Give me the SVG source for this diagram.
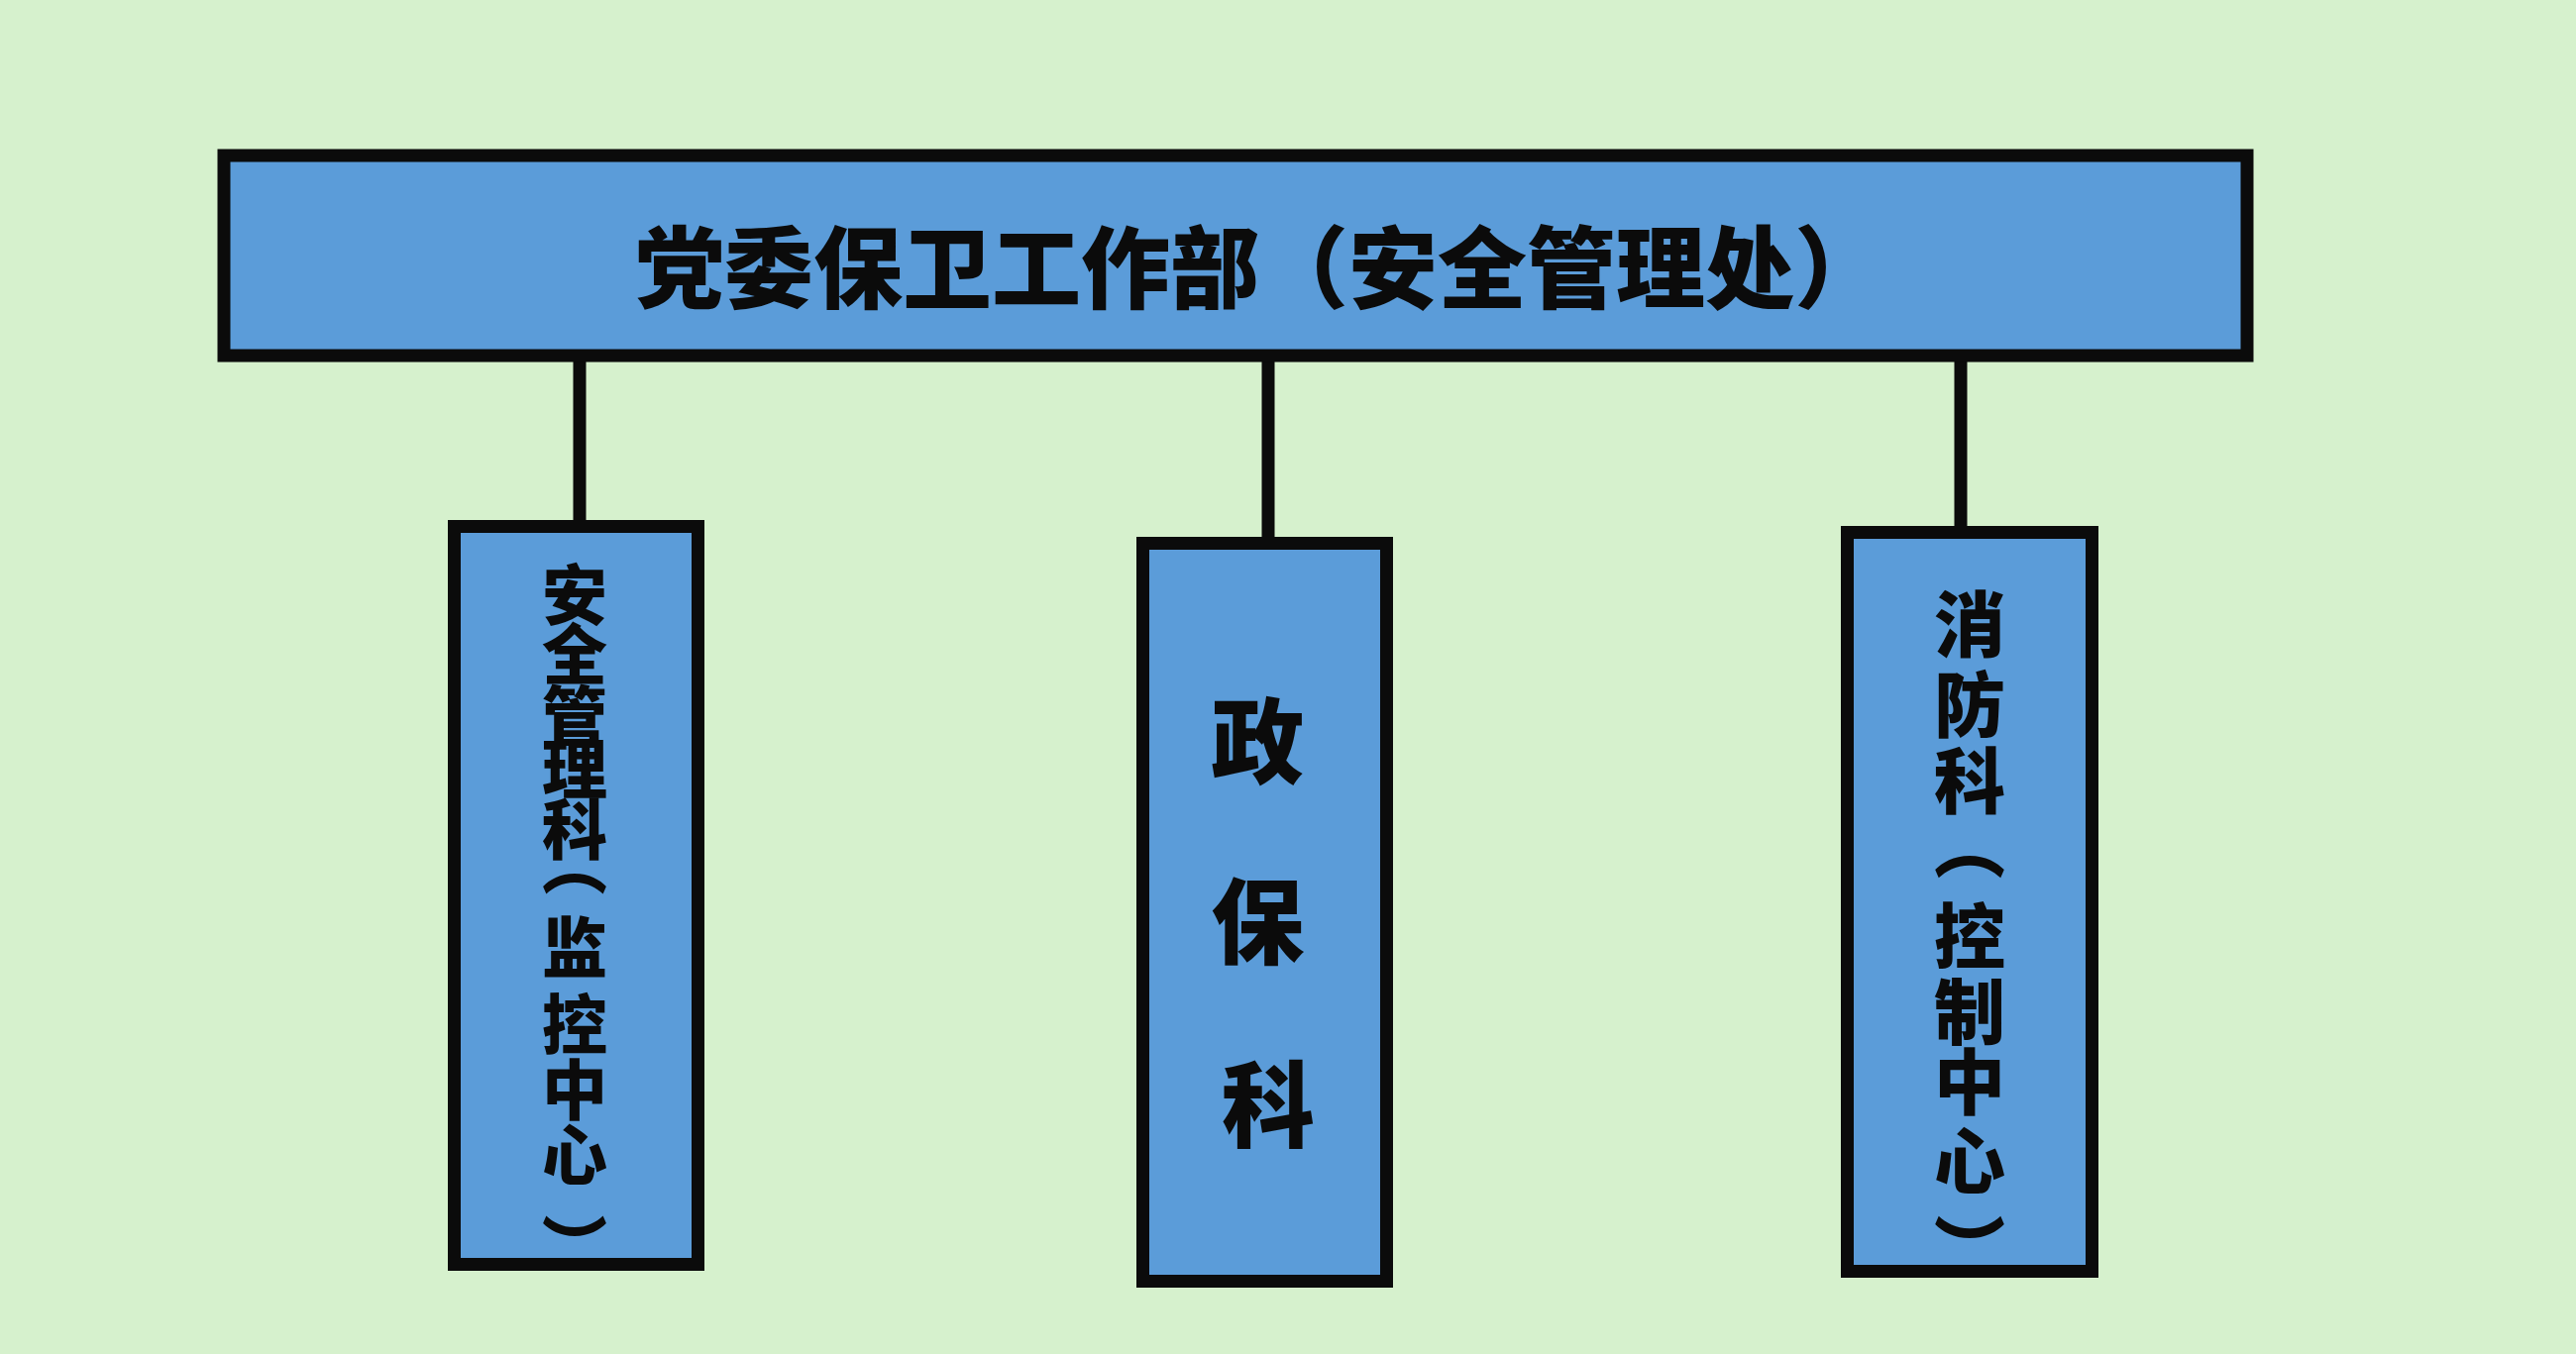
<svg xmlns="http://www.w3.org/2000/svg" width="2600" height="1367" viewBox="0 0 2600 1367">
  <style>
    .box { fill: #5b9cd9; stroke: #0b0b0b; stroke-width: 13; }
    .wire { stroke: #0b0b0b; stroke-width: 13; fill: none; }
    .lbl { font-family: "Noto Sans CJK SC", "Noto Sans CJK TC", sans-serif; font-weight: 900; fill: #0b0b0b; }
    .col { writing-mode: vertical-rl; text-anchor: middle; }
  </style>

  <!-- page background -->
  <rect x="0" y="0" width="2600" height="1367" fill="#d6f1cd"/>

  <!-- connectors from the department bar down to each section -->
  <g id="connectors">
    <line class="wire" x1="585" y1="360" x2="585" y2="532"/>
    <line class="wire" x1="1280" y1="360" x2="1280" y2="549"/>
    <line class="wire" x1="1979" y1="360" x2="1979" y2="538"/>
  </g>

  <!-- department -->
  <g id="dept">
    <rect class="box" x="226" y="157" width="2042" height="202" stroke-width="14"/>
    <text class="lbl" x="1271" y="265" font-size="90" text-anchor="middle" dominant-baseline="central">党委保卫工作部（安全管理处）</text>
  </g>

  <!-- safety management section: one glyph per column slot -->
  <g id="safety">
    <rect class="box" x="458.5" y="531.5" width="246" height="745"/>
    <text class="lbl col" x="580" font-size="66"
          y="600 660 723 776 837 872 956 1034 1100 1166 1258">安全管理科（监控中心）</text>
  </g>

  <!-- political security section -->
  <g id="political">
    <rect class="box" x="1153.5" y="548.5" width="246" height="745"/>
    <text class="lbl" font-size="94" text-anchor="middle" dominant-baseline="central">
      <tspan x="1280" y="743">政</tspan>
      <tspan x="1280" y="925">保</tspan>
      <tspan x="1280" y="1110">科</tspan>
    </text>
  </g>

  <!-- fire protection section -->
  <g id="fire">
    <rect class="box" x="1864.5" y="537.5" width="247" height="746"/>
    <text class="lbl col" x="1988" font-size="72"
          y="630 711 788 853 945 1021 1092 1172 1261">消防科（控制中心）</text>
  </g>
</svg>
